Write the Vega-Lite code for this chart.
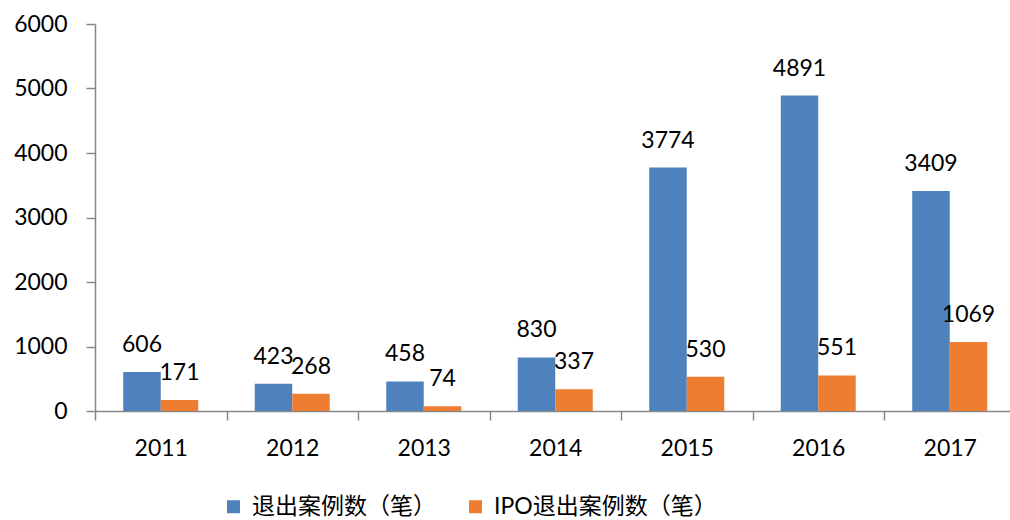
{
  "$schema": "https://vega.github.io/schema/vega-lite/v6.json",
  "width": 915,
  "height": 387,
  "autosize": {"type": "none"},
  "padding": {"left": 95, "top": 24, "right": 0, "bottom": 109},
  "background": "white",
  "config": {"view": {"stroke": null}, "font": "Lato"},
  "data": {
    "values": [
      {"year": "2011", "series": "退出案例数（笔）", "value": 606},
      {"year": "2011", "series": "IPO退出案例数（笔）", "value": 171},
      {"year": "2012", "series": "退出案例数（笔）", "value": 423},
      {"year": "2012", "series": "IPO退出案例数（笔）", "value": 268},
      {"year": "2013", "series": "退出案例数（笔）", "value": 458},
      {"year": "2013", "series": "IPO退出案例数（笔）", "value": 74},
      {"year": "2014", "series": "退出案例数（笔）", "value": 830},
      {"year": "2014", "series": "IPO退出案例数（笔）", "value": 337},
      {"year": "2015", "series": "退出案例数（笔）", "value": 3774},
      {"year": "2015", "series": "IPO退出案例数（笔）", "value": 530},
      {"year": "2016", "series": "退出案例数（笔）", "value": 4891},
      {"year": "2016", "series": "IPO退出案例数（笔）", "value": 551},
      {"year": "2017", "series": "退出案例数（笔）", "value": 3409},
      {"year": "2017", "series": "IPO退出案例数（笔）", "value": 1069}
    ]
  },
  "encoding": {
    "x": {
      "field": "year",
      "type": "nominal",
      "scale": {"range": [0, 920.5], "paddingInner": 0, "paddingOuter": 0},
      "axis": {
        "title": null,
        "labelAngle": 0,
        "labelFontSize": 23,
        "labelColor": "black",
        "labelPadding": 17,
        "tickBand": "extent",
        "tickSize": 9,
        "tickColor": "#888888",
        "tickWidth": 1.5,
        "domainColor": "#888888",
        "domainWidth": 1.5
      }
    },
    "xOffset": {
      "field": "series",
      "type": "nominal",
      "sort": ["退出案例数（笔）", "IPO退出案例数（笔）"],
      "scale": {"paddingInner": 0, "paddingOuter": 0.753}
    },
    "y": {
      "field": "value",
      "type": "quantitative",
      "scale": {"domain": [0, 6000], "nice": false},
      "axis": {
        "title": null,
        "values": [0, 1000, 2000, 3000, 4000, 5000, 6000],
        "format": "d",
        "grid": false,
        "labelFontSize": 23,
        "labelColor": "black",
        "labelPadding": 19,
        "tickSize": 9,
        "tickColor": "#888888",
        "tickWidth": 1.5,
        "domainColor": "#888888",
        "domainWidth": 1.5
      }
    }
  },
  "layer": [
    {
      "mark": {"type": "bar"},
      "encoding": {
        "color": {
          "field": "series",
          "type": "nominal",
          "scale": {
            "domain": ["退出案例数（笔）", "IPO退出案例数（笔）"],
            "range": ["#4F81BD", "#ED7D31"]
          },
          "legend": {
            "title": null,
            "orient": "none",
            "legendX": 127,
            "legendY": 471,
            "direction": "horizontal",
            "symbolType": "square",
            "symbolSize": 169,
            "symbolStrokeWidth": 0,
            "labelFontSize": 23,
            "labelFont": "Lato, Noto Sans CJK SC",
            "labelColor": "black",
            "labelOffset": 7,
            "columnPadding": 28,
            "labelLimit": 400
          }
        }
      }
    },
    {
      "mark": {"type": "text", "baseline": "alphabetic", "dy": -20, "fontSize": 23, "color": "black"},
      "encoding": {"text": {"field": "value", "type": "quantitative"}}
    }
  ]
}
